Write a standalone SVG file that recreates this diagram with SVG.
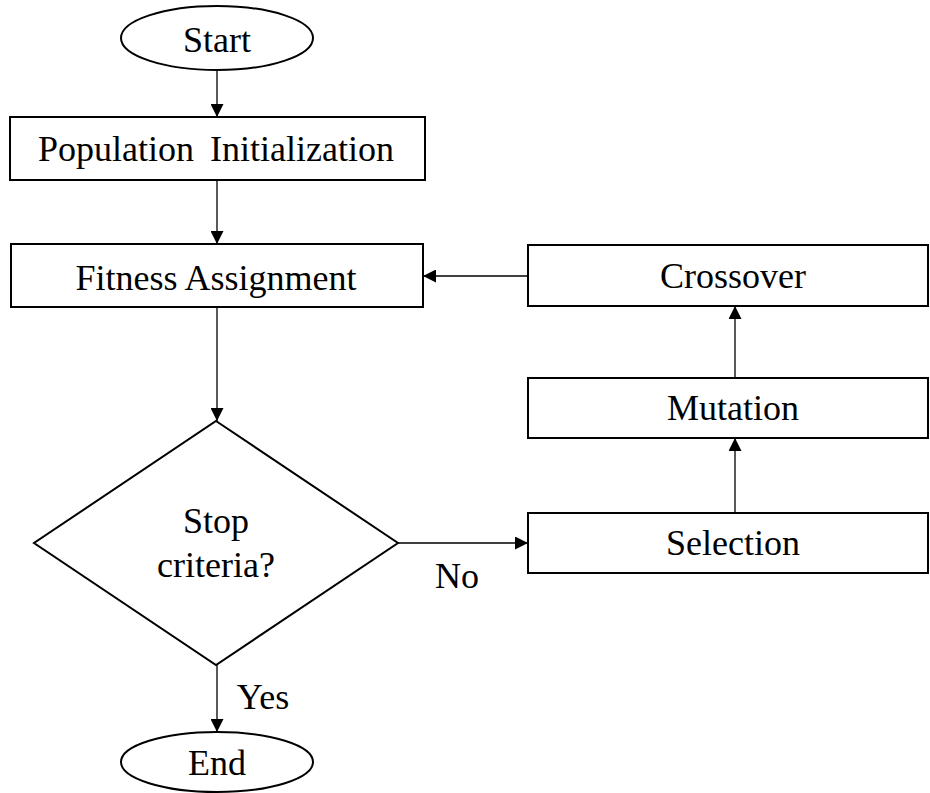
<svg xmlns="http://www.w3.org/2000/svg" width="930" height="793" viewBox="0 0 930 793">
<style>
  .shape { fill: #ffffff; stroke: #000000; stroke-width: 2; }
  .conn { fill: none; stroke: #000000; stroke-width: 1.3; marker-end: url(#arrow); }
  .lbl { font-family: "Liberation Serif", "Times New Roman", serif; font-size: 36px; fill: #000000; text-anchor: middle; }
</style>
<defs>
  <marker id="arrow" markerUnits="userSpaceOnUse" markerWidth="13" markerHeight="13" refX="13" refY="6.5" orient="auto">
    <path d="M0,0 L13,6.5 L0,13 z" fill="#000000"/>
  </marker>
</defs>
<rect width="930" height="793" fill="#ffffff"/>
<g id="connectors">
  <line class="conn" x1="217" y1="70" x2="217" y2="117"/>
  <line class="conn" x1="217" y1="180" x2="217" y2="244"/>
  <line class="conn" x1="217" y1="307" x2="217" y2="421"/>
  <line class="conn" x1="398" y1="543" x2="528" y2="543"/>
  <line class="conn" x1="735" y1="513" x2="735" y2="438"/>
  <line class="conn" x1="735" y1="378" x2="735" y2="306"/>
  <line class="conn" x1="528" y1="276" x2="423" y2="276"/>
  <line class="conn" x1="217" y1="665" x2="217" y2="732"/>
  <text class="lbl" x="457" y="588">No</text>
  <text class="lbl" x="263" y="709">Yes</text>
</g>
<g id="start">
  <ellipse class="shape" cx="217" cy="38" rx="96" ry="32"/>
  <text class="lbl" x="217" y="52">Start</text>
</g>
<g id="population">
  <rect class="shape" x="10" y="117" width="415" height="63"/>
  <text class="lbl" x="216" y="161" word-spacing="7">Population Initialization</text>
</g>
<g id="fitness">
  <rect class="shape" x="11" y="244" width="412" height="63"/>
  <text class="lbl" x="216" y="290">Fitness Assignment</text>
</g>
<g id="decision">
  <polygon class="shape" points="216,421 398,543 216,665 34,543"/>
  <text class="lbl" x="216" y="533">Stop</text>
  <text class="lbl" x="216" y="577">criteria?</text>
</g>
<g id="selection">
  <rect class="shape" x="528" y="513" width="400" height="60"/>
  <text class="lbl" x="733" y="555">Selection</text>
</g>
<g id="mutation">
  <rect class="shape" x="528" y="378" width="400" height="60"/>
  <text class="lbl" x="733" y="420">Mutation</text>
</g>
<g id="crossover">
  <rect class="shape" x="528" y="245" width="400" height="61"/>
  <text class="lbl" x="733" y="288">Crossover</text>
</g>
<g id="end">
  <ellipse class="shape" cx="217" cy="762" rx="96" ry="30"/>
  <text class="lbl" x="217" y="775">End</text>
</g>
</svg>
